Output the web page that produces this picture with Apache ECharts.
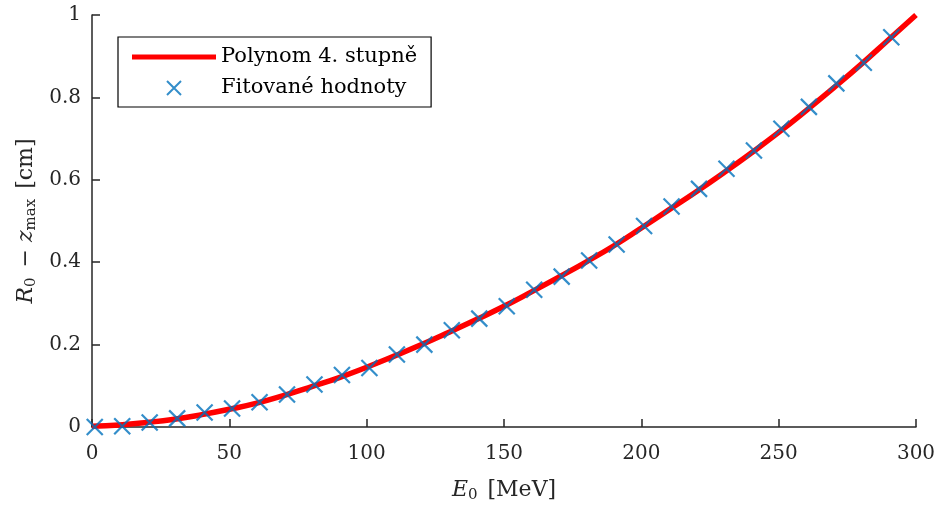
<!DOCTYPE html>
<html>
<head>
<meta charset="utf-8">
<script src="https://cdn.jsdelivr.net/npm/echarts@6/dist/echarts.min.js"></script>
<style>html,body{margin:0;padding:0;background:#fff}#c{width:937px;height:506px}</style>
</head>
<body>
<div id="c"></div>
<script>
// Fitted values (markers)
const fitE = [1, 11, 21, 31, 41, 51, 61, 71, 81, 91, 101, 111, 121, 131, 141, 151, 161, 171, 181, 191, 201, 211, 221, 231, 241, 251, 261, 271, 281, 291];
const fitV = [0.000, 0.002, 0.011, 0.021, 0.035, 0.045, 0.060, 0.079, 0.103, 0.126, 0.143, 0.176, 0.200, 0.235, 0.263, 0.293, 0.333, 0.365, 0.404, 0.443, 0.488, 0.535, 0.578, 0.627, 0.671, 0.724, 0.777, 0.834, 0.884, 0.946];
// Polynomial curve
const polyE = [0, 10, 20, 30, 40, 50, 60, 70, 80, 90, 100, 110, 120, 130, 140, 150, 160, 170, 180, 190, 200, 210, 220, 230, 240, 250, 260, 270, 280, 290, 300];
const polyV = [0.002, 0.005, 0.011, 0.019, 0.030, 0.043, 0.058, 0.077, 0.098, 0.120, 0.145, 0.172, 0.200, 0.230, 0.261, 0.293, 0.328, 0.364, 0.401, 0.440, 0.483, 0.527, 0.571, 0.617, 0.665, 0.715, 0.768, 0.823, 0.880, 0.940, 1.000];
const xTicks = [0, 50, 100, 150, 200, 250, 300];
const yTicks = [0, 0.2, 0.4, 0.6, 0.8, 1];
const seriesNames = ['Polynom 4. stupně', 'Fitované hodnoty'];

const FONT = 'DejaVu Serif';
const axisColor = '#262626';
const chart = echarts.init(document.getElementById('c'));
const xMark = 'path://M0 0L10 10M10 0L0 10';

chart.setOption({
  animation: false,
  backgroundColor: '#fff',
  textStyle: { fontFamily: FONT },
  grid: { left: 92, right: 21, top: 15, bottom: 79, containLabel: false, outerBoundsMode: 'none' },
  legend: {
    left: 118, top: 37, orient: 'vertical',
    borderColor: '#000', borderWidth: 1.2, backgroundColor: '#fff', borderRadius: 0,
    padding: [8, 14, 7, 14], itemGap: 7, itemWidth: 84, itemHeight: 14,
    textStyle: { fontFamily: FONT, fontSize: 21, color: '#000', lineHeight: 24 },
    data: [
      { name: seriesNames[0], icon: 'path://M0 0H84V5H0Z', itemStyle: { color: '#FF0000' } },
      { name: seriesNames[1], icon: xMark, itemStyle: { color: 'transparent', borderColor: '#0072BD', borderWidth: 2 } }
    ]
  },
  xAxis: {
    type: 'value', min: 0, max: 300, interval: 50,
    name: '{i|E}{s|0} [MeV]', nameLocation: 'middle', nameGap: 51,
    nameTextStyle: {
      fontFamily: FONT, fontSize: 22, color: '#262626',
      rich: { i: { fontStyle: 'italic', fontSize: 22, fontFamily: FONT, color: '#262626' },
              s: { fontSize: 15, fontFamily: FONT, color: '#262626', padding: [10, 3, 0, 0] } }
    },
    axisLine: { show: true, lineStyle: { color: axisColor, width: 1.5 } },
    axisTick: { show: true, inside: true, length: 8, lineStyle: { color: axisColor, width: 1.5 } },
    axisLabel: { fontFamily: FONT, fontSize: 20, color: '#262626', margin: 17, formatter: v => xTicks.includes(v) ? String(v) : '' },
    splitLine: { show: false }
  },
  yAxis: {
    type: 'value', min: 0, max: 1, interval: 0.2,
    name: '{i|R}{s|0} − {i|z}{s|max} [cm]', nameLocation: 'middle', nameGap: 53, nameRotate: 90,
    nameTextStyle: {
      fontFamily: FONT, fontSize: 22, color: '#262626',
      rich: { i: { fontStyle: 'italic', fontSize: 22, fontFamily: FONT, color: '#262626' },
              s: { fontSize: 15, fontFamily: FONT, color: '#262626', padding: [10, 3, 0, 0] } }
    },
    axisLine: { show: true, lineStyle: { color: axisColor, width: 1.5 } },
    axisTick: { show: true, inside: true, length: 8, lineStyle: { color: axisColor, width: 1.5 } },
    axisLabel: { fontFamily: FONT, fontSize: 20, color: '#262626', margin: 11, formatter: v => { const t = yTicks.find(k => Math.abs(k - v) < 1e-9); return t === undefined ? '' : String(t); } },
    splitLine: { show: false }
  },
  series: [
    {
      name: seriesNames[0], type: 'line', smooth: true, showSymbol: false, symbol: 'none',
      data: polyE.map((e, i) => [e, polyV[i]]),
      lineStyle: { color: '#FF0000', width: 5.5 }, itemStyle: { color: '#FF0000' }, z: 2
    },
    {
      name: seriesNames[1], type: 'scatter', symbol: xMark, symbolSize: 16,
      data: fitE.map((e, i) => [e, fitV[i]]),
      itemStyle: { color: 'transparent', borderColor: '#0072BD', borderWidth: 2.2 }, z: 3
    }
  ]
});
</script>
</body>
</html>
